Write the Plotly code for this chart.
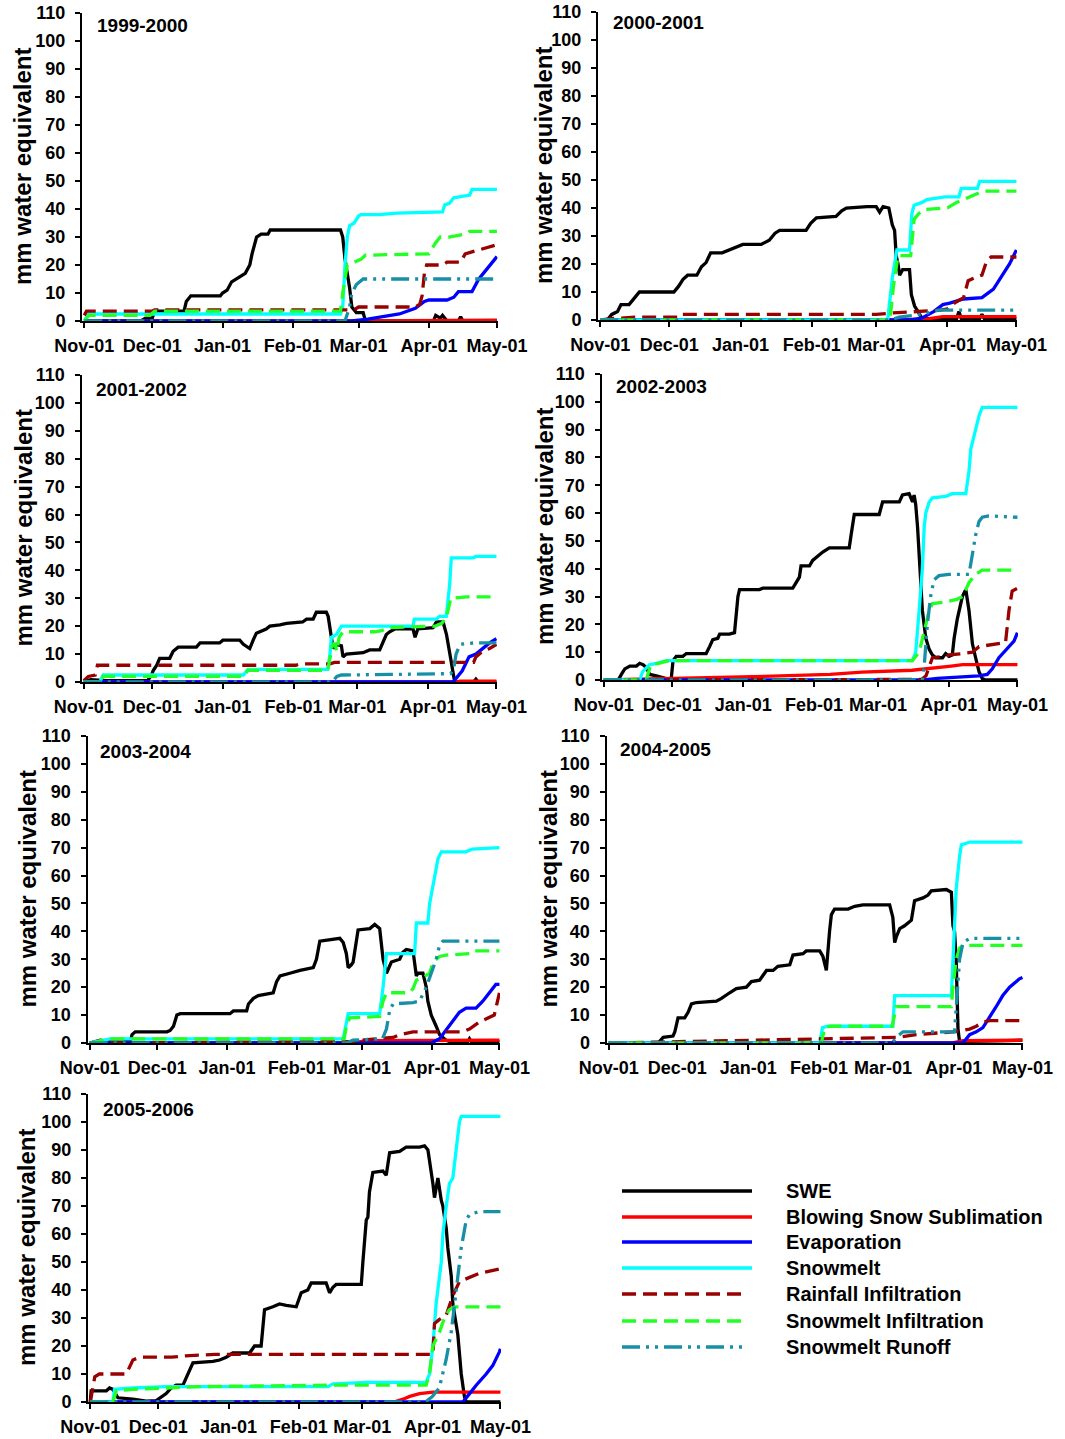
import plotly.graph_objects as go
import pandas as pd

PAGE_W, PAGE_H = 1065, 1439
BODY = 0                      # page margin removed below via post_script
W, H = PAGE_W - BODY, PAGE_H - BODY
FONT = "Liberation Sans, Arial, Helvetica, sans-serif"

# ---------------- data ----------------
SEASONS = ["1999-2000", "2000-2001", "2001-2002", "2002-2003",
           "2003-2004", "2004-2005", "2005-2006"]
START_YEARS = [1999, 2000, 2001, 2002, 2003, 2004, 2005]
SERIES = ["SWE", "Blowing Snow Sublimation", "Evaporation", "Snowmelt",
          "Rainfall Infiltration", "Snowmelt Infiltration", "Snowmelt Runoff"]
Y_TICKS = list(range(0, 111, 10))
MONTH_LABELS = ["Nov-01", "Dec-01", "Jan-01", "Feb-01", "Mar-01", "Apr-01", "May-01"]

# (days since Nov-01, mm water equivalent)
# ---- 1999-2000
SWE_1999 = [(0,0),(25,0),(27,1),(30,1),(31,3.5),(44,3.5),(45,7),(47,9),(60,9),(61,10),(63,11),(65,14),(68,15.5),(71,17),(73,20),(74,24),(76,30),(78,31),(81,31),(82,32.5),(113,32.5),(114,30),(115,22),(117,12),(118,5),(120,3),(123,3),(124,0),(154,0),(155,2),(157,1),(158,2),(160,0),(165,0),(166,1.5),(167,0),(182,0)]
BSS_1999 = [(0,0),(120,0),(182,0.3)]
EVAP_1999 = [(0,0),(118,0),(125,0.7),(132,1.5),(139,2.5),(146,4.5),(150,7),(152,7.5),(160,7.5),(163,8.5),(165,10.5),(171,10.5),(174,15),(177,18),(182,23)]
MELT_1999 = [(0,0),(2,2.5),(113,2.5),(114,5),(115,20),(116,30),(117,34),(119,35),(121,37.5),(122,38),(130,38),(138,38.5),(158,39),(159,41.5),(161,42),(163,44),(170,45),(171,47),(182,47)]
RAIN_1999 = [(0,2),(1,3.5),(30,3.5),(31,4),(119,4),(121,5),(146,5),(148,6),(149,9),(150,17),(151,20),(158,20),(160,21),(166,21),(168,24),(172,25),(176,26),(181,27)]
INF_1999 = [(0,0),(2,2),(29,2),(31,3.5),(113,3.5),(114,10),(116,20),(119,21),(122,22),(124,23.5),(148,24),(152,24),(155,28),(157,30),(161,30),(168,31),(170,32),(182,32)]
RUN_1999 = [(0,0),(115,0),(117,5),(118,10),(120,13),(123,15),(182,15)]
# ---- 2000-2001
SWE_2000 = [(0,0),(3,0),(5,2),(7.5,3),(9,5.5),(12.5,5.5),(14,7),(17,10),(32,10),(34,12),(36,14.5),(38,16),(42,16),(44,19),(46,20.5),(48,24),(53,24),(56,25),(62,27),(70,27),(73.5,28.5),(76,31),(78,32),(89.5,32),(91.5,34.5),(94,36.5),(102.5,37),(105,39),(107,40),(116,40.5),(120,40.5),(121.5,38.5),(123,40.5),(125.5,40),(127,34),(128,32),(128.7,23),(129.5,20),(130.2,16),(131.5,18),(134.5,18),(135.3,9),(136.7,5),(138.2,3),(140,0.5),(155,0.5),(156,3),(157,0.5),(165,0.5),(166,2),(167,0.5),(181,0.5)]
BSS_2000 = [(0,0),(130,0),(143,0.5),(149,1.2),(181,1.2)]
EVAP_2000 = [(0,0),(135,0),(140,0.7),(145,3),(149,5.5),(152,6),(158,7.5),(166,8),(171,11),(175,16),(178,20),(181,25)]
MELT_2000 = [(0,0),(125,0),(127,15),(129,25),(134.5,25),(135.5,38),(136.5,41),(140,42),(142,43),(150,44),(156,44),(157,47),(164,47),(165,49.5),(181,49.5)]
RAIN_2000 = [(0,0),(5,0.5),(15,1),(34,1),(35,2),(120,2),(127,2.5),(137,3),(148,3.5),(151,4),(154,6),(158,8),(160,14),(164,15.5),(166,16),(168,21),(170,22.5),(181,22.5)]
INF_2000 = [(0,0),(126,0),(127.5,12),(129.5,23),(135,23),(136.5,36),(138.5,38),(141,39.5),(151,40),(155,42),(158,43),(163.5,45),(166.5,46),(181,46)]
RUN_2000 = [(0,0),(126,0),(130,1),(140,2),(147,3.5),(181,3.5)]
# ---- 2001-2002
SWE_2001 = [(0,0),(3,0.8),(10,0.5),(28,0.5),(29.7,2.4),(30.4,4),(32,6),(33.3,8.5),(37.7,8.5),(39.2,11),(41.4,12.5),(49.4,12.5),(51,14),(59.6,14),(61,15),(68.4,15),(70,13.5),(72.8,12),(74.3,15),(75.7,17.5),(80,19),(81.6,20),(86,20.5),(89,21),(96,21.5),(97.7,22.5),(100.6,22.5),(102,25),(106.4,25),(107.2,23.5),(108.6,16),(109.4,12),(110.8,13.5),(113,13),(113.7,9),(115.2,10),(122.5,10.5),(125.4,11.5),(129.8,11.5),(132.7,17),(134.2,18),(136.4,19),(144.4,19),(145.3,16),(146.5,19),(153.2,19.5),(154.7,21.5),(157.6,21.5),(159.1,17),(160.5,10),(162,2),(162.7,0),(171,0),(172,1),(173,0),(181,0)]
BSS_2001 = [(0,0),(163,0),(165,0.3),(181,0.3)]
EVAP_2001 = [(0,0),(162,0),(166,4),(169,9),(172,10),(175,12),(178,14),(181,15.5)]
MELT_2001 = [(0,0),(7,0),(8.5,2.5),(70,2.5),(72,4.5),(107,4.5),(108,10),(108.6,16),(110.8,17),(112,19),(113,20),(144.4,20),(145,22.5),(154.7,22.5),(156,23.5),(159,23.5),(160.5,35),(161.2,44.5),(170.8,44.5),(172,45),(181,45)]
RAIN_2001 = [(0,0.5),(2,2),(5,2.5),(6,6),(93,6),(95,6.5),(108,6.5),(110,7),(171,7),(172,9),(175,11),(178,12),(181,13.5)]
INF_2001 = [(0,0),(7.5,0),(8.5,2),(70,2),(72,4.2),(107,4.2),(109,13),(110,14),(111,11),(112,16),(113.7,18),(128,18),(131,18.5),(134,19.5),(154,20),(157,21),(159,23),(161,30),(168,30.5),(181,30.5)]
RUN_2001 = [(0,0),(109,0),(111,2),(113,2.5),(135,2.7),(150,3),(161,3),(162.5,6),(163.3,10),(165,13.5),(171,14),(181,14)]
# ---- 2002-2003
SWE_2002 = [(0,0),(6.3,0),(7.7,2),(9.2,4),(11.4,5),(14.3,5),(15.7,6),(17.2,5.5),(18.6,4.5),(20.1,2),(23,1.5),(25.2,1),(28.1,0.3),(29.5,0.3),(30.3,7),(31.7,8.5),(34.6,8.5),(36.1,9.5),(44.8,9.5),(46.3,12),(47.7,14.5),(49.9,15),(50.7,16.5),(55,16.5),(57.2,17),(58.7,30),(59.4,32.5),(68.1,32.5),(69.6,33),(82.7,33),(84.1,35),(85.6,37),(86.3,41),(90,41),(91.4,43),(94.3,45),(95.8,46),(98.7,47.5),(107.4,47.5),(108.2,52),(109.6,59.5),(120.5,59.5),(121.3,62),(122,64),(129.3,64),(130.7,66.5),(133.6,67),(135.1,64),(135.8,66.5),(136.5,63),(137.3,55),(138,45),(138.7,30),(139.4,25),(140.9,15),(142.4,11),(143.8,9),(145.3,8),(148.2,8),(149.6,9.5),(151.1,8.5),(152.5,9),(153.3,15),(154.7,22),(156.9,30),(158.4,32.5),(159.8,25),(161.3,13),(162.7,8),(164.2,3),(165.6,0.5),(167,0),(181,0)]
BSS_2002 = [(0,0),(30,0.5),(70,1.3),(99,2),(113,2.8),(135,3.5),(142,4),(152,5),(157,5.5),(181,5.5)]
EVAP_2002 = [(0,0),(140,0),(146,0.6),(155,1),(164,1.5),(167.8,2),(170,4),(172.9,8),(177.3,12),(179.5,14),(181,17)]
MELT_2002 = [(0,0),(15.7,0),(17,3),(20,5.5),(23,6),(27.4,7),(135,7),(136.5,10),(138,25),(139.4,40),(140.2,55),(140.9,60),(142.4,64),(143.8,65.5),(149.6,66),(152.5,67),(158.4,67),(159.8,75),(160.6,83),(162,87),(162.7,90),(164.2,95),(165.6,98),(181,98)]
RAIN_2002 = [(0,0),(139,0.2),(141,1.5),(142.4,5),(143.8,8),(149.6,8.5),(151.1,9),(156.9,9.5),(161.3,10),(164.2,12),(171.5,13),(175.8,13.5),(177.3,25),(178.7,32),(181,33)]
INF_2002 = [(0,0),(18.6,0),(20.5,5.5),(24,6),(28.5,7),(135,7),(138,10),(139.4,15),(140.9,20),(142.4,25),(143.8,27.5),(149.6,28),(154.5,29),(157,30),(159.8,35),(162.7,38),(165.6,39.5),(181,39.5)]
RUN_2002 = [(0,0),(139.4,0),(140.2,5),(141.6,20),(143,30),(144.5,36),(146.7,37.5),(151,38),(159.8,38),(161.3,45),(162.7,52),(164.2,57),(165.6,58.5),(168.5,59),(181,58.5)]
# ---- 2003-2004
SWE_2003 = [(0,0),(3,0.5),(4.7,1),(7.7,0.5),(18,0.5),(18.8,3),(20.2,4),(34.3,4),(35.7,4.5),(37.2,6),(38.7,10),(40.2,10.5),(62.3,10.5),(63.8,11.5),(69.7,11.5),(70.5,14),(72.7,16),(74.9,17),(78.6,17.5),(81.5,18),(83,22),(84.5,24),(88.9,25),(93.4,26),(99.3,27),(100.7,30),(102.2,36.5),(106.6,37),(111.1,37.5),(112.6,36),(114,32),(114.8,27),(116.2,28),(117,29),(119.2,40.5),(124.4,41),(126.6,42.5),(128.8,41),(130.3,30),(131.8,25),(134,29),(137.7,30),(139.1,32.5),(140.6,33.5),(143.6,33),(145.1,24),(145.8,25),(148,25),(149.5,20),(150.2,15),(151.7,10),(153.9,6),(155.4,3),(158.3,1),(160,0.5),(168,0.5),(168.7,1.5),(169.5,0.5),(182,0.5)]
BSS_2003 = [(0,0),(117,0),(123,0.8),(182,1)]
EVAP_2003 = [(0,0),(151.7,0),(155.4,1.5),(158.3,4.5),(161.3,8),(164.2,11),(167.2,12.5),(171.6,12.5),(174.6,15),(177.5,18),(180.4,21),(182,21)]
MELT_2003 = [(0,0),(9,1.5),(112.6,1.5),(114,8),(114.8,10.5),(128.8,10.5),(130.3,20),(131.8,32),(144.3,32),(145.1,43),(150.2,43),(151,50),(152.5,57),(153.2,60),(154.7,66),(156.2,68.5),(167,68.5),(170,69.5),(182,70)]
RAIN_2003 = [(0,0),(60,0.3),(117,0.5),(123,1.2),(134.8,2),(137.7,3),(143.6,4),(165.7,4),(168.7,5),(173,7.5),(177.5,9),(179.7,10),(182,18)]
INF_2003 = [(0,0),(9,1.5),(113,1.5),(114,6),(115.5,9),(128.8,9.5),(130.3,15),(131.8,18),(142,18),(143.6,19.5),(145.1,22.5),(148,23.5),(151,25),(152.5,29),(155.4,31),(158.3,31.5),(168.7,32),(170.2,33),(182,33)]
RUN_2003 = [(0,0),(114,0),(117,1),(130,1.5),(131.8,5),(133.3,12),(134.8,14),(143.6,14.5),(146.5,15),(149.5,20),(151.7,25),(153.9,30),(155.4,35),(156.9,36.5),(182,36.5)]
# ---- 2004-2005
SWE_2004 = [(0,0),(21.6,0),(23.8,2),(28.1,2.5),(28.9,4),(30.3,9),(33.2,9),(34.7,11),(36.2,14),(38.3,14.5),(47.1,15),(49.3,16),(52.9,18),(55.8,19.5),(60.2,20),(62.4,22),(66,22.5),(69,26),(71.9,26),(74,27.5),(79.2,28),(80.6,31.5),(85,32),(86.4,33),(92.3,33),(93.7,31),(95.2,26),(95.9,35),(96.6,40),(97.4,46),(98.8,48),(104.7,48),(107.6,49),(111.2,49.5),(122.9,49.5),(124.3,45),(125.1,36),(125.8,38),(127.3,41),(129.4,42),(132.4,44),(133.8,51),(137.5,52),(139.7,53),(141.1,54.5),(147.7,55),(149.9,54),(150.6,42),(151.3,40),(152,30),(152.8,5),(153.5,0.5),(181,1)]
BSS_2004 = [(0,0),(150,0),(155,0.8),(181,1)]
EVAP_2004 = [(0,0),(155,0),(157.9,3),(160.8,4),(163.7,5.5),(166.6,9),(169.5,13),(172.4,17),(175.4,20),(179.7,23),(181,23.5)]
MELT_2004 = [(0,0),(92.3,0),(93.5,5.5),(96,6),(124.3,6),(125.1,17),(149.9,17),(150.6,30),(151.3,45),(152,55),(153.5,67),(154.3,71),(158,72),(181,72)]
RAIN_2004 = [(0,0),(30,0.5),(61,1),(92,1.5),(125.8,2),(134.5,3),(150.6,4),(157.9,5),(160.8,6),(163.7,7.5),(166.6,8),(181,8)]
INF_2004 = [(0,0),(93,0),(94.5,5.5),(97,6),(124,6),(125,10),(125.8,13),(149.9,13),(150.6,20),(152,30),(153.5,34),(155,35),(181,35)]
RUN_2004 = [(0,0),(124,0),(125.8,2),(128.7,4),(151.3,4),(152.8,20),(153.5,30),(155,36),(157.9,37.5),(181,37.5)]
# ---- 2005-2006
SWE_2005 = [(0,0),(0.4,4),(7.1,4),(8.5,5),(10,4.5),(12.2,1.5),(18.8,1),(24.7,0.3),(29.1,0.5),(32.1,2),(33.5,3),(35.7,5),(37.9,6),(40.9,6),(43.1,10),(45.3,14),(54.1,14.5),(57.1,15),(60,16),(62.9,17.5),(70.3,17.5),(72.5,20),(75.4,20),(76.9,33),(80.6,34),(83.5,35),(86.5,34.5),(90.9,34),(93.1,39),(96,40),(97.5,42.5),(104.1,42.5),(105.6,39),(107.1,41),(108.5,42),(119.6,42),(120.3,50),(121.8,65),(122.5,66),(123.2,75),(124.7,82),(129.1,82.5),(130.6,81),(132.1,89),(136.5,89.5),(139.4,91),(145.3,91),(147.5,91.5),(149,90),(150.4,83),(151.2,78),(151.9,73),(153.4,80),(154.9,72),(155.6,70),(157.1,62),(157.8,55),(159.3,45),(160,35),(162.2,24),(163.7,10),(165.1,2),(165.9,0),(181,0)]
BSS_2005 = [(0,0),(134,0),(138,1),(141,2),(145.3,3),(151.2,3.5),(181,3.5)]
EVAP_2005 = [(0,0),(164.4,0),(167.4,3),(170.3,6),(174.7,10),(177.6,13),(180.6,18),(181,19)]
MELT_2005 = [(0,0),(10,0),(10.7,4.5),(18.8,5),(33.5,5.5),(104.9,5.5),(107.1,6.5),(121.8,7),(148.2,7),(149.7,10),(151.2,20),(152.6,35),(154.9,50),(155.6,60),(157.1,70),(158.5,78),(160,80),(161.5,90),(162.9,100),(163.7,102),(181,102)]
RAIN_2005 = [(0,0),(1,5),(2,9),(4,10),(15.9,10),(18.8,15),(21.8,16),(36,16),(42,16.5),(55,17),(151.2,17),(151.9,28),(154.1,29.5),(157.1,31),(160,38),(162.9,43),(165.9,44),(171.8,46),(180.6,47.5)]
INF_2005 = [(0,0),(10,0),(11.5,4),(18.8,4.5),(33.5,5),(48,5.5),(104,6),(148.2,6),(149.7,10),(151.2,20),(154.1,25),(156.3,30),(158.5,33),(160.7,34),(181,34)]
RUN_2005 = [(0,0),(148,0),(151,2),(154,5),(157,15),(159.3,25),(161.5,40),(163.7,55),(165.9,65),(167.4,67),(171.8,68),(181,68)]

SEASON_DATA = [
    [SWE_1999, BSS_1999, EVAP_1999, MELT_1999, RAIN_1999, INF_1999, RUN_1999],
    [SWE_2000, BSS_2000, EVAP_2000, MELT_2000, RAIN_2000, INF_2000, RUN_2000],
    [SWE_2001, BSS_2001, EVAP_2001, MELT_2001, RAIN_2001, INF_2001, RUN_2001],
    [SWE_2002, BSS_2002, EVAP_2002, MELT_2002, RAIN_2002, INF_2002, RUN_2002],
    [SWE_2003, BSS_2003, EVAP_2003, MELT_2003, RAIN_2003, INF_2003, RUN_2003],
    [SWE_2004, BSS_2004, EVAP_2004, MELT_2004, RAIN_2004, INF_2004, RUN_2004],
    [SWE_2005, BSS_2005, EVAP_2005, MELT_2005, RAIN_2005, INF_2005, RUN_2005],
]

# ---------------- styles / layout ----------------
DASH_RAIN = "14px,7px"
DASH_RUN = "18px,6px,3px,6px,3px,6px"
STYLES = [
    dict(color="#000000", width=3.3, dash="solid"),
    dict(color="#ff0000", width=3.3, dash="solid"),
    dict(color="#0000ff", width=3.3, dash="solid"),
    dict(color="#00ffff", width=3.3, dash="solid"),
    dict(color="#990000", width=3.3, dash=DASH_RAIN),
    dict(color="#22ff22", width=3.3, dash=DASH_RAIN),
    dict(color="#178fa6", width=3.3, dash=DASH_RUN),
]

# screen pixel boxes: (left axis line, right end, top(110), bottom(0))
BOXES = [
    (82, 497.5, 13, 321),
    (598, 1017, 12, 320),
    (81.5, 497, 375, 682),
    (601.5, 1018, 374, 680),
    (87.5, 500, 736, 1043),
    (606.5, 1023, 736, 1043),
    (88, 501, 1094, 1402),
]
YTITLE_X = [23, 543, 23, 544, 27, 548, 26]
LABEL_POS = [(95, 25), (611, 22), (94, 389), (614, 386), (98, 751), (618, 749), (101, 1109)]


def px(x):
    return (x - BODY) / W


def py(y):
    return 1 - (y - BODY) / H


fig = go.Figure()
layout = dict(
    width=W, height=H, margin=dict(l=0, r=0, t=0, b=0, autoexpand=False),
    paper_bgcolor="white", plot_bgcolor="white", showlegend=False,
)
annotations = []
shapes = []

tickfont = dict(family=FONT, size=18, color="black", weight="bold")

for i, (season, y0, pts_list) in enumerate(zip(SEASONS, START_YEARS, SEASON_DATA)):
    base = pd.Timestamp(year=y0, month=11, day=1)
    end = pd.Timestamp(year=y0 + 1, month=5, day=1)
    ax = "" if i == 0 else str(i + 1)
    for name, pts, st in zip(SERIES, pts_list, STYLES):
        xs = [base + pd.Timedelta(days=d) for d, _ in pts]
        ys = [v for _, v in pts]
        fig.add_trace(go.Scatter(
            x=xs, y=ys, mode="lines", name=name,
            line=dict(color=st["color"], width=st["width"], dash=st["dash"]),
            xaxis="x" + ax, yaxis="y" + ax, hoverinfo="skip", cliponaxis=False,
        ))
    l, r, t, b = BOXES[i]
    month_starts = list(pd.date_range(base, end, freq="MS"))
    layout["xaxis" + ax] = dict(
        domain=[px(l), px(r)], anchor="y" + ax, type="date",
        range=[base - pd.Timedelta(days=1), end + pd.Timedelta(hours=6)],
        tickvals=month_starts, ticktext=MONTH_LABELS, tickangle=0,
        ticks="outside", ticklen=5, tickwidth=1.5, tickcolor="black",
        showline=True, linecolor="black", linewidth=2,
        showgrid=False, zeroline=False, tickfont=tickfont,
        ticklabelstandoff=2, automargin=False,
    )
    layout["yaxis" + ax] = dict(
        domain=[py(b), py(t)], anchor="x" + ax,
        range=[0, 110], tickvals=Y_TICKS,
        ticks="outside", ticklen=5, tickwidth=1.5, tickcolor="black",
        showline=True, linecolor="black", linewidth=2,
        showgrid=False, zeroline=False, tickfont=tickfont,
        ticklabelstandoff=6, automargin=False,
    )
    annotations.append(dict(
        x=px(YTITLE_X[i]), y=py((t + b) / 2), xref="paper", yref="paper",
        text="mm water equivalent", textangle=-90, showarrow=False,
        font=dict(family=FONT, size=24, color="black", weight="bold"),
        xanchor="center", yanchor="middle",
    ))
    lx, ly = LABEL_POS[i]
    annotations.append(dict(
        x=px(lx), y=py(ly), xref="paper", yref="paper",
        text=season, showarrow=False, xanchor="left", yanchor="middle",
        font=dict(family=FONT, size=19, color="black", weight="bold"),
    ))

# legend (drawn manually)
LEG_Y = [1191, 1217, 1242, 1268, 1294, 1321, 1347]
for name, st, yy in zip(SERIES, STYLES, LEG_Y):
    x_end = 744 if st["dash"] != "solid" else 752
    shapes.append(dict(
        type="line", xref="paper", yref="paper",
        x0=px(622), x1=px(x_end), y0=py(yy), y1=py(yy),
        line=dict(color=st["color"], width=3.5, dash=st["dash"]),
    ))
    annotations.append(dict(
        x=px(784), y=py(yy), xref="paper", yref="paper", text=name,
        showarrow=False, xanchor="left", yanchor="middle",
        font=dict(family=FONT, size=20, color="black", weight="bold"),
    ))

layout["annotations"] = annotations
layout["shapes"] = shapes
fig.update_layout(**layout)
fig.write_html("out.html", config={"displayModeBar": False},
               post_script="document.body.style.margin='0';")
